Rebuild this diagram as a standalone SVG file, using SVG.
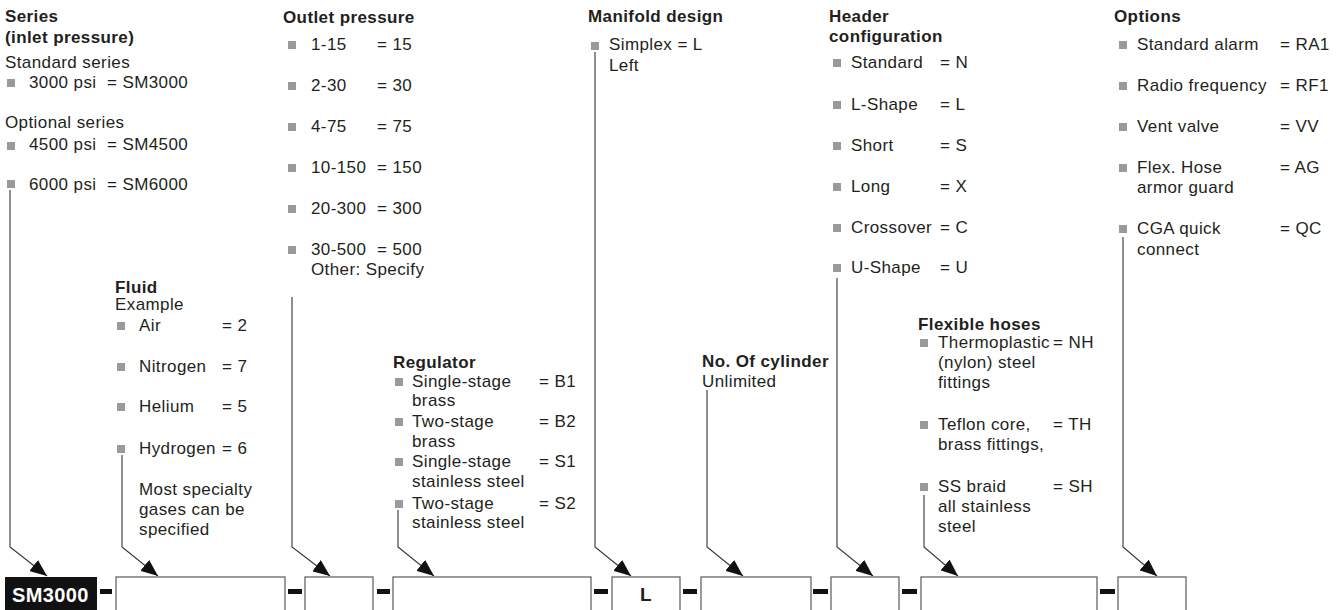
<svg xmlns="http://www.w3.org/2000/svg" width="1340" height="610" viewBox="0 0 1340 610">
<style>
text{font-family:"Liberation Sans",Arial,sans-serif;font-size:17px;fill:#231f20;letter-spacing:0.4px}
.h{font-weight:bold}
.b{fill:#9a9a9a}
.c{fill:none;stroke:#333;stroke-width:1.1}
.box{fill:#fff;stroke:#666;stroke-width:1.3}
.dash{fill:#111}
</style>
<defs>
<marker id="ah" markerUnits="userSpaceOnUse" markerWidth="17" markerHeight="14" viewBox="0 0 17 14" refX="17" refY="7" orient="auto">
<path d="M0,0 L17,7 L0,14 z" fill="#111"/>
</marker>
</defs>
<rect width="1340" height="610" fill="#fff"/>

<g id="series">
<text x="5" y="22" class="h">Series</text>
<text x="5" y="43" class="h">(inlet pressure)</text>
<text x="5" y="68">Standard series</text>
<rect class="b" x="7" y="79" width="8" height="8"/><text x="29" y="88">3000 psi</text><text x="107" y="88">= SM3000</text>
<text x="5" y="128">Optional series</text>
<rect class="b" x="7" y="142" width="8" height="8"/><text x="29" y="150">4500 psi</text><text x="107" y="150">= SM4500</text>
<rect class="b" x="7" y="180" width="8" height="8"/><text x="29" y="190">6000 psi</text><text x="107" y="190">= SM6000</text>
</g>

<g id="outlet">
<text x="283" y="23" class="h">Outlet pressure</text>
<rect class="b" x="288" y="41" width="8" height="8"/><text x="311" y="50">1-15</text><text x="377" y="50">= 15</text>
<rect class="b" x="288" y="82" width="8" height="8"/><text x="311" y="91">2-30</text><text x="377" y="91">= 30</text>
<rect class="b" x="288" y="123" width="8" height="8"/><text x="311" y="132">4-75</text><text x="377" y="132">= 75</text>
<rect class="b" x="288" y="164" width="8" height="8"/><text x="311" y="173">10-150</text><text x="377" y="173">= 150</text>
<rect class="b" x="288" y="205" width="8" height="8"/><text x="311" y="214">20-300</text><text x="377" y="214">= 300</text>
<rect class="b" x="288" y="246" width="8" height="8"/><text x="311" y="255">30-500</text><text x="377" y="255">= 500</text>
<text x="311" y="275">Other: Specify</text>
</g>

<g id="manifold">
<text x="588" y="22" class="h">Manifold design</text>
<rect class="b" x="591" y="42" width="8" height="8"/><text x="609" y="50">Simplex = L</text>
<text x="609" y="71">Left</text>
</g>

<g id="header">
<text x="829" y="22" class="h">Header</text>
<text x="829" y="42" class="h">configuration</text>
<rect class="b" x="833" y="59" width="8" height="8"/><text x="851" y="68">Standard</text><text x="940" y="68">= N</text>
<rect class="b" x="833" y="101" width="8" height="8"/><text x="851" y="110">L-Shape</text><text x="940" y="110">= L</text>
<rect class="b" x="833" y="142" width="8" height="8"/><text x="851" y="151">Short</text><text x="940" y="151">= S</text>
<rect class="b" x="833" y="183" width="8" height="8"/><text x="851" y="192">Long</text><text x="940" y="192">= X</text>
<rect class="b" x="833" y="224" width="8" height="8"/><text x="851" y="233">Crossover</text><text x="940" y="233">= C</text>
<rect class="b" x="833" y="264" width="8" height="8"/><text x="851" y="273">U-Shape</text><text x="940" y="273">= U</text>
</g>

<g id="options">
<text x="1114" y="22" class="h">Options</text>
<rect class="b" x="1119" y="41" width="8" height="8"/><text x="1137" y="50">Standard alarm</text><text x="1280" y="50">= RA1</text>
<rect class="b" x="1119" y="82" width="8" height="8"/><text x="1137" y="91">Radio frequency</text><text x="1280" y="91">= RF1</text>
<rect class="b" x="1119" y="123" width="8" height="8"/><text x="1137" y="132">Vent valve</text><text x="1280" y="132">= VV</text>
<rect class="b" x="1119" y="164" width="8" height="8"/><text x="1137" y="173">Flex. Hose</text><text x="1280" y="173">= AG</text>
<text x="1137" y="193">armor guard</text>
<rect class="b" x="1119" y="225" width="8" height="8"/><text x="1137" y="234">CGA quick</text><text x="1280" y="234">= QC</text>
<text x="1137" y="255">connect</text>
</g>

<g id="fluid">
<text x="115" y="293" class="h">Fluid</text>
<text x="115" y="310">Example</text>
<rect class="b" x="117" y="322" width="8" height="8"/><text x="139" y="331">Air</text><text x="222" y="331">= 2</text>
<rect class="b" x="117" y="363" width="8" height="8"/><text x="139" y="372">Nitrogen</text><text x="222" y="372">= 7</text>
<rect class="b" x="117" y="403" width="8" height="8"/><text x="139" y="412">Helium</text><text x="222" y="412">= 5</text>
<rect class="b" x="117" y="445" width="8" height="8"/><text x="139" y="454">Hydrogen</text><text x="222" y="454">= 6</text>
<text x="139" y="495">Most specialty</text>
<text x="139" y="515">gases can be</text>
<text x="139" y="535">specified</text>
</g>

<g id="regulator">
<text x="393" y="368" class="h">Regulator</text>
<rect class="b" x="395" y="378" width="8" height="8"/><text x="412" y="387">Single-stage</text><text x="539" y="387">= B1</text>
<text x="412" y="406">brass</text>
<rect class="b" x="395" y="418" width="8" height="8"/><text x="412" y="427">Two-stage</text><text x="539" y="427">= B2</text>
<text x="412" y="447">brass</text>
<rect class="b" x="395" y="458" width="8" height="8"/><text x="412" y="467">Single-stage</text><text x="539" y="467">= S1</text>
<text x="412" y="487">stainless steel</text>
<rect class="b" x="395" y="500" width="8" height="8"/><text x="412" y="509">Two-stage</text><text x="539" y="509">= S2</text>
<text x="412" y="528">stainless steel</text>
</g>

<g id="cylinder">
<text x="702" y="367" class="h">No. Of cylinder</text>
<text x="702" y="387">Unlimited</text>
</g>

<g id="hoses">
<text x="918" y="330" class="h">Flexible hoses</text>
<rect class="b" x="920" y="339" width="8" height="8"/><text x="938" y="348">Thermoplastic</text><text x="1053" y="348">= NH</text>
<text x="938" y="368">(nylon) steel</text>
<text x="938" y="388">fittings</text>
<rect class="b" x="920" y="421" width="8" height="8"/><text x="938" y="430">Teflon core,</text><text x="1053" y="430">= TH</text>
<text x="938" y="450">brass fittings,</text>
<rect class="b" x="920" y="483" width="8" height="8"/><text x="938" y="492">SS braid</text><text x="1053" y="492">= SH</text>
<text x="938" y="512">all stainless</text>
<text x="938" y="532">steel</text>
</g>

<g id="connectors">
<path class="c" marker-end="url(#ah)" d="M10,190 V547 L47,576"/>
<path class="c" marker-end="url(#ah)" d="M122,455 V547 L158,576"/>
<path class="c" marker-end="url(#ah)" d="M292,297 V547 L330,576"/>
<path class="c" marker-end="url(#ah)" d="M398,510 V547 L434,576"/>
<path class="c" marker-end="url(#ah)" d="M595,52 V547 L631,576"/>
<path class="c" marker-end="url(#ah)" d="M707,390 V547 L743,576"/>
<path class="c" marker-end="url(#ah)" d="M837,278 V547 L873,576"/>
<path class="c" marker-end="url(#ah)" d="M924,495 V547 L958,576"/>
<path class="c" marker-end="url(#ah)" d="M1123,237 V547 L1157,576"/>
</g>

<g id="code">
<rect x="5" y="577" width="92" height="36" fill="#111"/>
<text x="12" y="602" class="h" style="fill:#fff;font-size:20px">SM3000</text>
<rect class="dash" x="100" y="589" width="12" height="5"/>
<rect class="box" x="116" y="577" width="169" height="36"/>
<rect class="dash" x="288" y="589" width="14" height="5"/>
<rect class="box" x="305" y="577" width="68" height="36"/>
<rect class="dash" x="377" y="589" width="13" height="5"/>
<rect class="box" x="393" y="577" width="198" height="36"/>
<rect class="dash" x="594" y="589" width="14" height="5"/>
<rect class="box" x="612" y="577" width="68" height="36"/>
<text x="646" y="601" class="h" text-anchor="middle" style="font-size:19px">L</text>
<rect class="dash" x="683" y="589" width="14" height="5"/>
<rect class="box" x="701" y="577" width="110" height="36"/>
<rect class="dash" x="813" y="589" width="15" height="5"/>
<rect class="box" x="831" y="577" width="68" height="36"/>
<rect class="dash" x="902" y="589" width="15" height="5"/>
<rect class="box" x="921" y="577" width="176" height="36"/>
<rect class="dash" x="1100" y="589" width="15" height="5"/>
<rect class="box" x="1118" y="577" width="68" height="36"/>
</g>
</svg>
